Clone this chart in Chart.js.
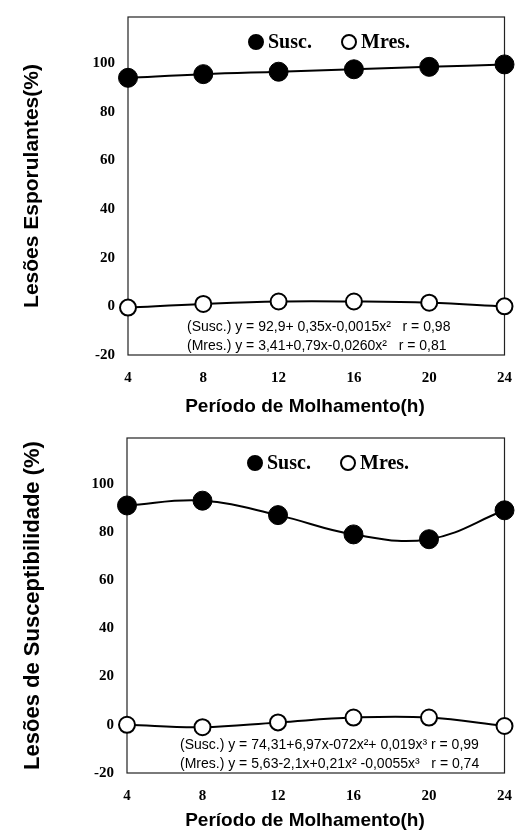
<!DOCTYPE html>
<html>
<head>
<meta charset="utf-8">
<script src="https://cdn.jsdelivr.net/npm/chart.js@4.4.1/dist/chart.umd.min.js"></script>
<style>
  body { margin: 0; background: #fff; overflow: hidden; }
  .box { position: relative; width: 515px; }
</style>
</head>
<body>
<div class="box" style="height:420px"><canvas id="chartTop"></canvas></div>
<div class="box" style="height:411px"><canvas id="chartBottom"></canvas></div>
<script>
// Data
const periods = [4, 8, 12, 16, 20, 24];
const yTicks = [-20, 0, 20, 40, 60, 80, 100];
const seriesNames = ['Susc.', 'Mres.'];
const xTitle = 'Período de Molhamento(h)';

const esporSusc = [94, 95.5, 96.5, 97.5, 98.5, 99.5];
const esporMres = [-0.5, 1, 2, 2, 1.5, 0];
const suscepSusc = [91, 93, 87, 79, 77, 89];
const suscepMres = [0, -1, 1, 3, 3, -0.5];

const esporEquations = [
    '(Susc.) y = 92,9+ 0,35x-0,0015x\u00b2   r = 0,98',
    '(Mres.) y = 3,41+0,79x-0,0260x\u00b2   r = 0,81'
];
const suscepEquations = [
    '(Susc.) y = 74,31+6,97x-072x\u00b2+ 0,019x\u00b3 r = 0,99',
    '(Mres.) y = 5,63-2,1x+0,21x\u00b2 -0,0055x\u00b3   r = 0,74'
];

const serif = '"Liberation Serif", "Times New Roman", serif';
const sans = '"Liberation Sans", Arial, sans-serif';

// box, legend, equations and x title
const framePlugin = {
    id: 'frame',
    beforeDatasetsDraw(chart) {
        const { ctx, chartArea: a } = chart;
        ctx.save();
        ctx.strokeStyle = '#222';
        ctx.lineWidth = 1.2;
        ctx.strokeRect(a.left, a.top, a.right - a.left, a.bottom - a.top);
        ctx.restore();
    },
    afterDatasetsDraw(chart, args, opts) {
        const { ctx, chartArea: a } = chart;
        ctx.save();
        // legend
        const lx = [a.left + 128, a.left + 221];
        const ly = a.top + 25;
        ctx.font = 'bold 20px ' + serif;
        ctx.textBaseline = 'middle';
        chart.data.datasets.forEach((ds, i) => {
            ctx.beginPath();
            ctx.arc(lx[i], ly, 7, 0, Math.PI * 2);
            ctx.fillStyle = ds.pointBackgroundColor;
            ctx.fill();
            ctx.lineWidth = 2;
            ctx.strokeStyle = '#000';
            ctx.stroke();
            ctx.fillStyle = '#000';
            ctx.fillText(ds.label, lx[i] + 12, ly + 1);
        });
        // equations
        ctx.font = '14px ' + sans;
        opts.equations.forEach((t, i) => {
            ctx.fillText(t, opts.eqX, a.bottom - 28 + i * 19);
        });
        // x axis title (sits left of the plot centre in the original)
        ctx.font = 'bold 19px ' + sans;
        ctx.textAlign = 'center';
        ctx.fillText(xTitle, 305, opts.xTitleY);
        ctx.restore();
    }
};

function makeChart(id, suscVals, mresVals, yTitle, equations, geo) {
    return new Chart(document.getElementById(id), {
        type: 'line',
        data: {
            datasets: [{
                label: seriesNames[0],
                data: periods.map((p, i) => ({ x: p, y: suscVals[i] })),
                borderColor: '#000',
                borderWidth: 2,
                pointBackgroundColor: '#000',
                pointBorderColor: '#000',
                pointRadius: 9.5,
                pointBorderWidth: 1,
                tension: 0.4,
                clip: false
            }, {
                label: seriesNames[1],
                data: periods.map((p, i) => ({ x: p, y: mresVals[i] })),
                borderColor: '#000',
                borderWidth: 2,
                pointBackgroundColor: '#fff',
                pointBorderColor: '#000',
                pointRadius: 8,
                pointBorderWidth: 2,
                tension: 0.4,
                clip: false
            }]
        },
        options: {
            responsive: true,
            maintainAspectRatio: false,
            animation: false,
            layout: { padding: { top: geo.top, right: 5, left: 0, bottom: 0 } },
            plugins: {
                legend: { display: false },
                tooltip: { enabled: false },
                frame: { equations: equations, eqX: geo.eqX, xTitleY: geo.xTitleY }
            },
            scales: {
                x: {
                    type: 'linear',
                    min: 4,
                    max: 24,
                    afterBuildTicks: s => { s.ticks = periods.map(v => ({ value: v })); },
                    afterFit: s => {
                        s.height = geo.xHeight;
                        s.paddingLeft = 0;
                        s.paddingRight = 0;
                    },
                    grid: { display: false, drawTicks: false },
                    border: { display: false },
                    ticks: { color: '#000', padding: 14, font: { family: serif, size: 15, weight: 'bold' } }
                },
                y: {
                    min: -20,
                    max: 119,
                    afterBuildTicks: s => { s.ticks = yTicks.map(v => ({ value: v })); },
                    afterFit: s => {
                        s.width = geo.left;
                        s.paddingTop = 0;
                        s.paddingBottom = 0;
                    },
                    grid: { display: false, drawTicks: false },
                    border: { display: false },
                    ticks: { color: '#000', padding: 13, font: { family: serif, size: 15, weight: 'bold' } },
                    title: {
                        display: true,
                        text: yTitle,
                        color: '#000',
                        font: { family: sans, size: geo.yTitleSize, weight: 'bold', lineHeight: 1 },
                        padding: { top: 22, bottom: 0 }
                    }
                }
            }
        },
        plugins: [framePlugin]
    });
}

makeChart('chartTop', esporSusc, esporMres, 'Lesões Esporulantes(%)', esporEquations,
    { top: 17, left: 128, xHeight: 65, xTitleY: 407, eqX: 187, yTitleSize: 21 });
makeChart('chartBottom', suscepSusc, suscepMres, 'Lesões de Susceptibilidade (%)', suscepEquations,
    { top: 18, left: 127, xHeight: 58, xTitleY: 401, eqX: 180, yTitleSize: 22 });
</script>
</body>
</html>
